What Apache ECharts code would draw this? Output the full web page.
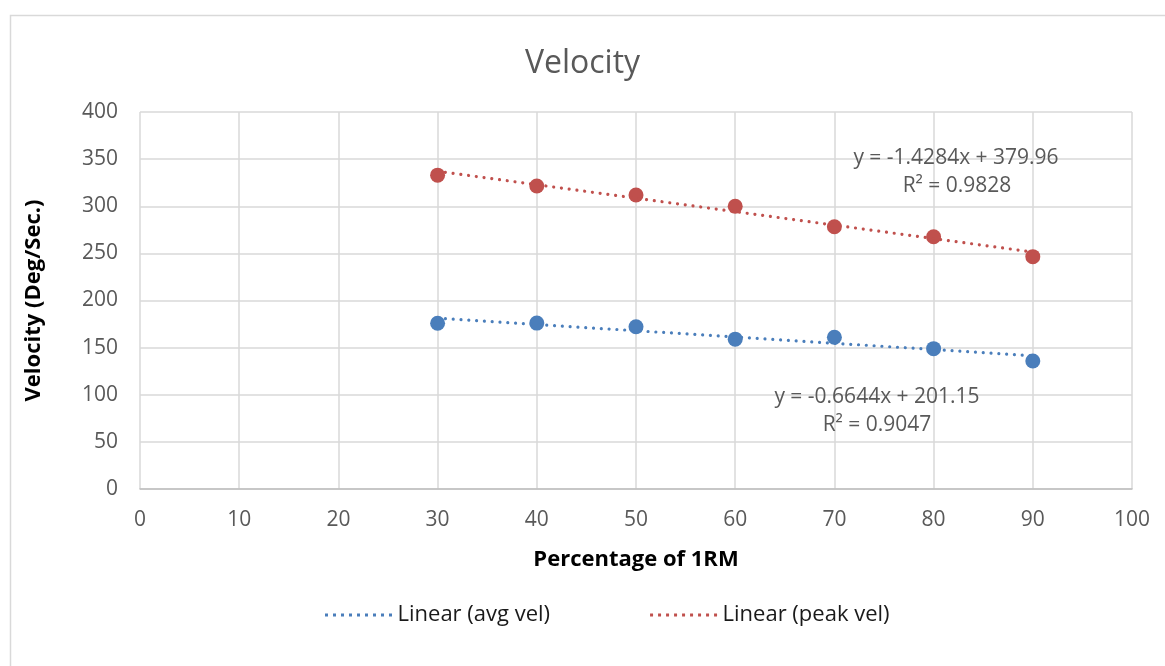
<!DOCTYPE html>
<html>
<head>
<meta charset="utf-8">
<script src="https://cdn.jsdelivr.net/npm/echarts@6/dist/echarts.min.js"></script>
<style>html,body{margin:0;padding:0;background:#fff}#c{width:1165px;height:666px}</style>
</head>
<body>
<div id="c"></div>
<script>
// Data
const pct = [30, 40, 50, 60, 70, 80, 90];
const avgVel = [175.8, 176, 172.2, 159, 161, 148.9, 135.8];
const peakVel = [333, 321.5, 312, 300, 278.3, 267.7, 246.5];
// Trendline coefficients shown on chart: [slope, intercept]
const avgFit = [-0.6644, 201.15];
const peakFit = [-1.4284, 379.96];
const avgEq = ['y = -0.6644x + 201.15', 'R² = 0.9047'];
const peakEq = ['y = -1.4284x + 379.96', 'R² = 0.9828'];
const xTicks = [0, 10, 20, 30, 40, 50, 60, 70, 80, 90, 100];
const yTicks = [0, 50, 100, 150, 200, 250, 300, 350, 400];

const BLUE = '#4a7ebb', RED = '#c0504d';
const FONT = '"Open Sans", "Noto Sans", sans-serif';
const x0 = pct[0], x1 = pct[pct.length - 1];
const line = f => [[x0, f[0] * x0 + f[1]], [x1, f[0] * x1 + f[1]]];

// dotted legend icon
let dots = '';
for (let i = 0; i < 9; i++) dots += 'M' + (i * 8) + ',0h3v3h-3z';
const DOT_ICON = 'path://' + dots;

const chart = echarts.init(document.getElementById('c'));
chart.setOption({
  animation: false,
  backgroundColor: '#fff',
  textStyle: { fontFamily: FONT },
  title: {
    text: 'Velocity', left: 'center', top: 43,
    textStyle: { fontFamily: FONT, fontSize: 32, fontWeight: 'normal', color: '#595959' }
  },
  grid: { left: 140, right: 33, top: 112, bottom: 177 },
  xAxis: {
    type: 'value', min: xTicks[0], max: xTicks[xTicks.length - 1], interval: 10,
    name: 'Percentage of 1RM', nameLocation: 'middle', nameGap: 60,
    nameTextStyle: { fontFamily: FONT, fontSize: 22, fontWeight: 'bold', color: '#000' },
    axisLine: { show: true, lineStyle: { color: '#bfbfbf', width: 1.5 } },
    axisTick: { show: false },
    axisLabel: { color: '#595959', fontSize: 21, margin: 21 },
    splitLine: { show: true, lineStyle: { color: '#d9d9d9', width: 1.5 } }
  },
  yAxis: {
    type: 'value', min: yTicks[0], max: yTicks[yTicks.length - 1], interval: 50,
    name: 'Velocity (Deg/Sec.)', nameLocation: 'middle', nameGap: 95, nameRotate: 90,
    nameTextStyle: { fontFamily: FONT, fontSize: 22, fontWeight: 'bold', color: '#000' },
    axisLine: { show: false },
    axisTick: { show: false },
    axisLabel: { color: '#595959', fontSize: 21, margin: 22 },
    splitLine: { show: true, lineStyle: { color: '#d9d9d9', width: 1.5 } }
  },
  legend: {
    left: 320, top: 599, itemWidth: 68, itemHeight: 3, itemGap: 100,
    data: [{ name: 'Linear (avg vel)', icon: DOT_ICON }, { name: 'Linear (peak vel)', icon: DOT_ICON }],
    textStyle: { fontFamily: FONT, fontSize: 22, color: '#1a1a1a' }
  },
  series: [
    { name: 'avg vel', type: 'scatter', symbolSize: 15, itemStyle: { color: BLUE, opacity: 1 },
      data: pct.map((x, i) => [x, avgVel[i]]), z: 3 },
    { name: 'peak vel', type: 'scatter', symbolSize: 15, itemStyle: { color: RED, opacity: 1 },
      data: pct.map((x, i) => [x, peakVel[i]]), z: 3 },
    { name: 'Linear (avg vel)', type: 'line', symbol: 'none', data: line(avgFit),
      lineStyle: { color: BLUE, width: 3.2, type: [0.01, 7.8], cap: 'round' }, itemStyle: { color: BLUE }, z: 4 },
    { name: 'Linear (peak vel)', type: 'line', symbol: 'none', data: line(peakFit),
      lineStyle: { color: RED, width: 3.2, type: [0.01, 7.8], cap: 'round' }, itemStyle: { color: RED }, z: 4 }
  ],
  graphic: [
    { type: 'rect', left: 8, top: 13, shape: { width: 1170, height: 660 }, silent: true,
      style: { fill: 'none', stroke: '#d9d9d9', lineWidth: 1.5 }, z: -10 },
    { type: 'text', x: 956, y: 158, style: { text: peakEq[0], fontFamily: FONT, fontSize: 21, fill: '#595959', align: 'center', verticalAlign: 'middle' }, z: 10 },
    { type: 'text', x: 957, y: 186, style: { text: peakEq[1], fontFamily: FONT, fontSize: 21, fill: '#595959', align: 'center', verticalAlign: 'middle' }, z: 10 },
    { type: 'text', x: 877, y: 397, style: { text: avgEq[0], fontFamily: FONT, fontSize: 21, fill: '#595959', align: 'center', verticalAlign: 'middle' }, z: 10 },
    { type: 'text', x: 877, y: 425, style: { text: avgEq[1], fontFamily: FONT, fontSize: 21, fill: '#595959', align: 'center', verticalAlign: 'middle' }, z: 10 }
  ]
});
</script>
</body>
</html>
